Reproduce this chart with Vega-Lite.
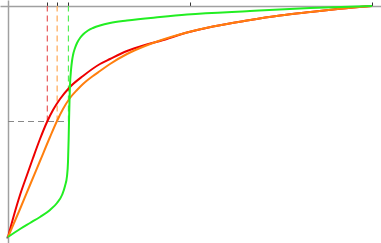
{
  "$schema": "https://vega.github.io/schema/vega-lite/v6.json",
  "width": 381,
  "height": 243,
  "autosize": "none",
  "padding": 0,
  "background": "white",
  "config": {"view": {"stroke": null}},
  "datasets": {
    "curves": [
      {"s": "red", "x": 0, "y": 0},
      {"s": "red", "x": 0.0165, "y": 0.0952},
      {"s": "red", "x": 0.033, "y": 0.1818},
      {"s": "red", "x": 0.0522, "y": 0.2684},
      {"s": "red", "x": 0.0687, "y": 0.342},
      {"s": "red", "x": 0.0879, "y": 0.4242},
      {"s": "red", "x": 0.1071, "y": 0.4978},
      {"s": "red", "x": 0.1236, "y": 0.5498},
      {"s": "red", "x": 0.1429, "y": 0.5974},
      {"s": "red", "x": 0.1703, "y": 0.6494},
      {"s": "red", "x": 0.206, "y": 0.697},
      {"s": "red", "x": 0.2527, "y": 0.7489},
      {"s": "red", "x": 0.2802, "y": 0.7706},
      {"s": "red", "x": 0.3269, "y": 0.8052},
      {"s": "red", "x": 0.3764, "y": 0.8312},
      {"s": "red", "x": 0.4176, "y": 0.8485},
      {"s": "red", "x": 0.4918, "y": 0.8853},
      {"s": "red", "x": 0.5632, "y": 0.9113},
      {"s": "red", "x": 0.6566, "y": 0.9372},
      {"s": "red", "x": 0.7473, "y": 0.9589},
      {"s": "red", "x": 0.8297, "y": 0.974},
      {"s": "red", "x": 0.9121, "y": 0.9879},
      {"s": "red", "x": 1, "y": 1},
      {"s": "orange", "x": 0, "y": 0},
      {"s": "orange", "x": 0.033, "y": 0.1212},
      {"s": "orange", "x": 0.0604, "y": 0.2251},
      {"s": "orange", "x": 0.0879, "y": 0.329},
      {"s": "orange", "x": 0.1154, "y": 0.4329},
      {"s": "orange", "x": 0.1346, "y": 0.5022},
      {"s": "orange", "x": 0.1511, "y": 0.5541},
      {"s": "orange", "x": 0.1703, "y": 0.6017},
      {"s": "orange", "x": 0.1896, "y": 0.6364},
      {"s": "orange", "x": 0.206, "y": 0.6623},
      {"s": "orange", "x": 0.2335, "y": 0.697},
      {"s": "orange", "x": 0.2527, "y": 0.7186},
      {"s": "orange", "x": 0.2802, "y": 0.7489},
      {"s": "orange", "x": 0.3269, "y": 0.7922},
      {"s": "orange", "x": 0.3764, "y": 0.8268},
      {"s": "orange", "x": 0.4176, "y": 0.8506},
      {"s": "orange", "x": 0.4918, "y": 0.8853},
      {"s": "orange", "x": 0.5632, "y": 0.9113},
      {"s": "orange", "x": 0.6566, "y": 0.9372},
      {"s": "orange", "x": 0.7473, "y": 0.9589},
      {"s": "orange", "x": 0.8297, "y": 0.974},
      {"s": "orange", "x": 0.9121, "y": 0.9879},
      {"s": "orange", "x": 1, "y": 1},
      {"s": "green", "x": 0, "y": 0},
      {"s": "green", "x": 0.033, "y": 0.0346},
      {"s": "green", "x": 0.0604, "y": 0.0606},
      {"s": "green", "x": 0.0879, "y": 0.0866},
      {"s": "green", "x": 0.1154, "y": 0.1169},
      {"s": "green", "x": 0.1346, "y": 0.1472},
      {"s": "green", "x": 0.1484, "y": 0.1818},
      {"s": "green", "x": 0.1566, "y": 0.2208},
      {"s": "green", "x": 0.1621, "y": 0.2641},
      {"s": "green", "x": 0.1648, "y": 0.3247},
      {"s": "green", "x": 0.1665, "y": 0.4199},
      {"s": "green", "x": 0.1676, "y": 0.5022},
      {"s": "green", "x": 0.169, "y": 0.5931},
      {"s": "green", "x": 0.1703, "y": 0.658},
      {"s": "green", "x": 0.1731, "y": 0.7229},
      {"s": "green", "x": 0.1758, "y": 0.7619},
      {"s": "green", "x": 0.1786, "y": 0.7879},
      {"s": "green", "x": 0.1841, "y": 0.8182},
      {"s": "green", "x": 0.1896, "y": 0.8398},
      {"s": "green", "x": 0.1978, "y": 0.8615},
      {"s": "green", "x": 0.206, "y": 0.8766},
      {"s": "green", "x": 0.2198, "y": 0.8939},
      {"s": "green", "x": 0.2335, "y": 0.9048},
      {"s": "green", "x": 0.2527, "y": 0.9156},
      {"s": "green", "x": 0.2802, "y": 0.9264},
      {"s": "green", "x": 0.3269, "y": 0.9372},
      {"s": "green", "x": 0.4176, "y": 0.9524},
      {"s": "green", "x": 0.4918, "y": 0.9632},
      {"s": "green", "x": 0.6648, "y": 0.9784},
      {"s": "green", "x": 0.8297, "y": 0.9913},
      {"s": "green", "x": 1, "y": 1}
    ],
    "vlines": [
      {"s": "red", "x": 0.108, "y": 0.5, "y2": 1},
      {"s": "orange", "x": 0.135, "y": 0.5, "y2": 1},
      {"s": "green", "x": 0.166, "y": 0.5, "y2": 1}
    ],
    "hline": [
      {"x": 0, "x2": 0.166, "y": 0.5}
    ]
  },
  "encoding": {
    "x": {
      "field": "x", "type": "quantitative",
      "scale": {"domain": [-0.022, 1.0247], "nice": false, "zero": false},
      "axis": {
        "orient": "top", "offset": -6, "title": null, "labels": false, "grid": false,
        "values": [0.108, 0.135, 0.166, 0.5, 1],
        "domainColor": "#a0a0a0", "domainWidth": 1.5,
        "tickColor": "#333333", "tickSize": 4, "tickWidth": 1
      }
    },
    "y": {
      "field": "y", "type": "quantitative",
      "scale": {"domain": [-0.026, 1.026], "nice": false, "zero": false},
      "axis": {
        "orient": "left", "offset": -8, "title": null, "labels": false, "grid": false,
        "values": [0],
        "domainColor": "#a0a0a0", "domainWidth": 1.5,
        "tickColor": "#555555", "tickSize": 2, "tickWidth": 2
      }
    }
  },
  "layer": [
    {
      "data": {"name": "hline"},
      "mark": {"type": "rule", "strokeDash": [6, 4], "strokeWidth": 1.2, "color": "#888888"},
      "encoding": {"x2": {"field": "x2"}}
    },
    {
      "data": {"name": "vlines"},
      "mark": {"type": "rule", "strokeDash": [6, 4], "strokeWidth": 1.2},
      "encoding": {
        "y2": {"field": "y2"},
        "color": {"field": "s", "type": "nominal", "legend": null,
          "scale": {"domain": ["red", "orange", "green"], "range": ["#e85a5a", "#ffaa55", "#55ee55"]}}
      }
    },
    {
      "data": {"name": "curves"},
      "mark": {"type": "line", "strokeWidth": 2, "interpolate": "monotone"},
      "encoding": {
        "detail": {"field": "s", "type": "nominal"},
        "stroke": {"field": "s", "type": "nominal", "legend": null,
          "scale": {"domain": ["red", "orange", "green"], "range": ["#ee0000", "#ff7f0e", "#22ee22"]}},
        "order": {"field": "x", "type": "quantitative"}
      }
    }
  ]
}
